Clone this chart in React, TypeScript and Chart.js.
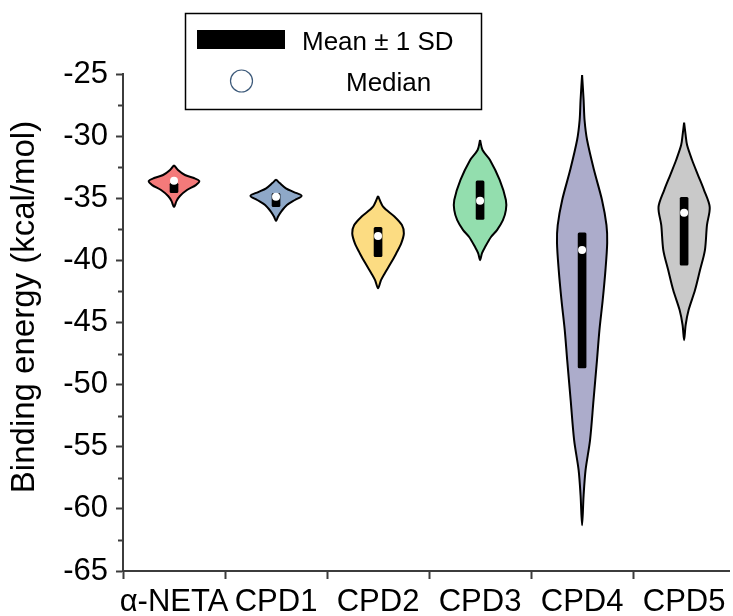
import React, { useEffect, useRef } from 'react';
import { Chart, registerables } from 'chart.js';

Chart.register(...registerables);

// ---------- data ----------
const categories = ['α-NETA', 'CPD1', 'CPD2', 'CPD3', 'CPD4', 'CPD5'];
const fillColors = ['#F47A7A', '#8EA8C8', '#FCDC82', '#93DEAE', '#ACACCB', '#C9C9C9'];

// Mean ± 1 SD (lower / upper bound), kcal/mol
const sdLow = [-34.56, -35.68, -39.71, -36.7, -48.65, -40.38];
const sdHigh = [-33.78, -34.6, -37.34, -33.59, -37.78, -34.93];
const medians = [-33.59, -34.88, -38.04, -35.2, -39.17, -36.17];

const yMajorTicks = [-65, -60, -55, -50, -45, -40, -35, -30, -25];
const yMinorTicks = [-62.5, -57.5, -52.5, -47.5, -42.5, -37.5, -32.5, -27.5];

// Violin outlines: energy levels (top -> bottom) and half-widths (category units)
const levelsANETA = [-32.33, -32.73, -33.13, -33.37, -33.62, -33.94, -34.34, -34.82, -35.23, -35.71];
const widthsANETA = [0, 0.039, 0.107, 0.195, 0.248, 0.214, 0.127, 0.058, 0.024, 0];
const levelsCPD1 = [-33.48, -33.8, -34.2, -34.5, -34.8, -35.14, -35.55, -36.09, -36.49, -36.84];
const widthsCPD1 = [0, 0.039, 0.097, 0.175, 0.251, 0.185, 0.107, 0.049, 0.019, 0];
const levelsCPD2 = [-34.82, -35.68, -36.49, -37.16, -37.83, -38.63, -39.44, -40.24, -41.05, -41.59, -42.25];
const widthsCPD2 = [0, 0.049, 0.163, 0.234, 0.253, 0.227, 0.178, 0.124, 0.065, 0.029, 0];
const levelsCPD3 = [-30.31, -31.12, -31.92, -33.53, -35.14, -35.95, -36.76, -37.56, -38.12, -38.93, -39.41, -39.98];
const widthsCPD3 = [0, 0.024, 0.097, 0.192, 0.253, 0.253, 0.224, 0.166, 0.107, 0.049, 0.019, 0];
const levelsCPD4 = [-25.08, -27.09, -28.7, -30.31, -32.73, -35.14, -37.16, -38.6, -40.78, -43.2, -45.61, -48.03, -51.25, -54.47, -56.88, -58.9, -61.31];
const widthsCPD4 = [0, 0.015, 0.024, 0.049, 0.117, 0.195, 0.239, 0.246, 0.229, 0.202, 0.17, 0.146, 0.112, 0.078, 0.034, 0.015, 0];
const levelsCPD5 = [-28.92, -29.91, -30.72, -31.92, -33.13, -34.34, -35.71, -37.16, -39.17, -40.78, -42.39, -44.0, -45.2, -46.42];
const widthsCPD5 = [0, 0.015, 0.029, 0.078, 0.136, 0.195, 0.251, 0.224, 0.204, 0.156, 0.107, 0.044, 0.015, 0];

const violinLevels = [levelsANETA, levelsCPD1, levelsCPD2, levelsCPD3, levelsCPD4, levelsCPD5];
const violinWidths = [widthsANETA, widthsCPD1, widthsCPD2, widthsCPD3, widthsCPD4, widthsCPD5];

const legendLabels = ['Mean ± 1 SD', 'Median'];
const yTitle = 'Binding energy (kcal/mol)';

// ---------- helpers ----------
function violinPoints(i: number) {
  const c = i + 1;
  const L = violinLevels[i];
  const W = violinWidths[i];
  const pts: { x: number; y: number }[] = [];
  for (let j = 0; j < L.length; j++) pts.push({ x: c + W[j], y: L[j] });
  for (let j = L.length - 2; j >= 0; j--) pts.push({ x: c - W[j], y: L[j] });
  return pts;
}

const FONT = "'Liberation Sans', Arial, Helvetica, sans-serif";
const AXIS_COLOR = '#3c3c3c';

const minorTickPlugin = {
  id: 'minorTicks',
  afterDraw(chart: any) {
    const ys = chart.scales.y;
    const ctx = chart.ctx;
    ctx.save();
    ctx.strokeStyle = AXIS_COLOR;
    ctx.lineWidth = 2;
    for (const v of yMinorTicks) {
      const py = Math.round(ys.getPixelForValue(v)) + 0.5;
      ctx.beginPath();
      ctx.moveTo(chart.chartArea.left - 5, py);
      ctx.lineTo(chart.chartArea.left, py);
      ctx.stroke();
    }
    ctx.restore();
  },
};

const yTitlePlugin = {
  id: 'yTitle',
  afterDraw(chart: any) {
    const ctx = chart.ctx;
    ctx.save();
    ctx.translate(24.8, 307);
    ctx.rotate(-Math.PI / 2);
    ctx.fillStyle = '#000000';
    ctx.font = `33px ${FONT}`;
    ctx.textAlign = 'center';
    ctx.textBaseline = 'middle';
    ctx.fillText(yTitle, 0, 0);
    ctx.restore();
  },
};

const legendPlugin = {
  id: 'boxLegend',
  afterDraw(chart: any) {
    const ctx = chart.ctx;
    ctx.save();
    ctx.fillStyle = '#ffffff';
    ctx.fillRect(185, 13, 297, 97);
    ctx.strokeStyle = '#000000';
    ctx.lineWidth = 1.5;
    ctx.strokeRect(185.5, 13.5, 296, 96);
    // mean ± SD symbol
    ctx.fillStyle = '#000000';
    ctx.fillRect(197, 30, 88, 19);
    // median symbol
    ctx.beginPath();
    ctx.arc(241.5, 81, 11, 0, Math.PI * 2);
    ctx.fillStyle = '#ffffff';
    ctx.fill();
    ctx.strokeStyle = '#3d5a7a';
    ctx.lineWidth = 1.2;
    ctx.stroke();
    ctx.fillStyle = '#000000';
    ctx.font = `26px ${FONT}`;
    ctx.textAlign = 'left';
    ctx.textBaseline = 'alphabetic';
    ctx.fillText(legendLabels[0], 302, 50);
    ctx.fillText(legendLabels[1], 346, 91);
    ctx.restore();
  },
};

export default function App() {
  const ref = useRef<HTMLCanvasElement | null>(null);

  useEffect(() => {
    if (!ref.current) return;
    const datasets: any[] = [];
    categories.forEach((_, i) => {
      datasets.push({
        type: 'line',
        data: violinPoints(i),
        borderColor: '#000000',
        borderWidth: 2,
        backgroundColor: fillColors[i],
        fill: 'shape',
        tension: 0.3,
        pointRadius: 0,
        borderJoinStyle: 'round',
        order: 3,
      });
    });
    datasets.push({
      type: 'bar',
      data: categories.map((_, i) => ({ x: i + 1, y: [sdLow[i], sdHigh[i]] })),
      backgroundColor: '#000000',
      barThickness: 8,
      borderRadius: 1.5,
      borderSkipped: false,
      order: 2,
    });
    datasets.push({
      type: 'line',
      data: categories.map((_, i) => ({ x: i + 1, y: medians[i] })),
      showLine: false,
      pointRadius: 4,
      pointBackgroundColor: '#ffffff',
      pointBorderWidth: 0,
      pointBorderColor: '#ffffff',
      order: 1,
    });

    const chart = new Chart(ref.current, {
      type: 'line',
      data: { datasets },
      plugins: [minorTickPlugin, yTitlePlugin, legendPlugin],
      options: {
        animation: false,
        responsive: false,
        maintainAspectRatio: false,
        layout: { padding: { top: 74, left: 0, right: 0, bottom: 0 } },
        plugins: { legend: { display: false }, tooltip: { enabled: false } },
        font: { family: FONT },
        scales: {
          x: {
            type: 'linear',
            min: 0.5,
            max: 6.44,
            offset: false,
            afterBuildTicks: (s: any) => {
              s.ticks = categories.map((_, i) => ({ value: i + 1 }));
            },
            afterFit: (s: any) => {
              s.height = 45;
            },
            ticks: {
              autoSkip: false,
              maxRotation: 0,
              minRotation: 0,
              padding: 5,
              color: '#000000',
              font: { family: FONT, size: 31 },
              callback: (v: any) => categories[Math.round(Number(v)) - 1] ?? '',
            },
            grid: {
              display: true,
              drawOnChartArea: false,
              drawTicks: true,
              tickLength: 8,
              tickColor: AXIS_COLOR,
              tickWidth: 2,
            },
            border: { display: true, color: AXIS_COLOR, width: 2 },
          },
          y: {
            type: 'linear',
            min: -65,
            max: -25,
            afterBuildTicks: (s: any) => {
              s.ticks = yMajorTicks.map((v) => ({ value: v }));
            },
            afterFit: (s: any) => {
              s.width = 123;
            },
            ticks: {
              padding: 8,
              color: '#000000',
              font: { family: FONT, size: 31 },
            },
            grid: {
              display: true,
              drawOnChartArea: false,
              drawTicks: true,
              tickLength: 7,
              tickColor: AXIS_COLOR,
              tickWidth: 2,
            },
            border: { display: true, color: AXIS_COLOR, width: 2 },
            title: { display: false },
          },
        },
      } as any,
    });
    return () => chart.destroy();
  }, []);

  return (
    <div style={{ position: 'absolute', left: 0, top: 0, width: 733, height: 616 }}>
      <canvas ref={ref} width={733} height={616} style={{ width: 733, height: 616, display: 'block' }} />
    </div>
  );
}
